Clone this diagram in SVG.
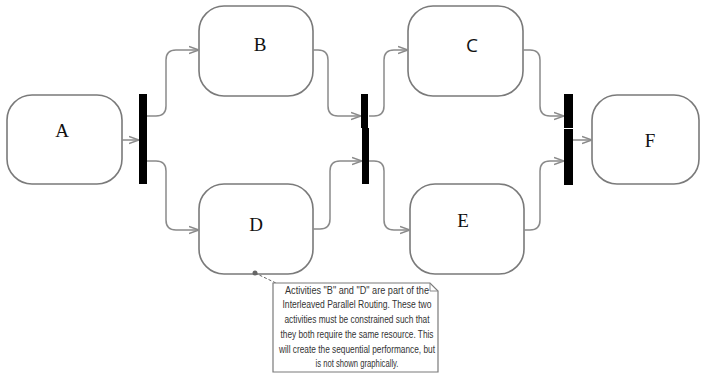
<svg xmlns="http://www.w3.org/2000/svg" width="702" height="374" viewBox="0 0 702 374">
  <defs>
    <marker id="arrow" viewBox="0 0 10 10" refX="10" refY="5" markerWidth="10" markerHeight="10" markerUnits="userSpaceOnUse" orient="auto">
      <path d="M0,1.5 L10,5 L0,8.5" fill="none" stroke="#8a8a8a" stroke-width="1.4"/>
    </marker>
    <style>
      .task { fill: #ffffff; stroke: #7a7a7a; stroke-width: 1.6; }
      .label { font-family: "Liberation Serif", "Times New Roman", serif; font-size: 19px; fill: #111111; text-anchor: middle; }
      .label-sans { font-family: "Open Sans", "Liberation Sans", sans-serif; font-size: 19px; fill: #111111; text-anchor: middle; }
      .bar { fill: #000000; }
      .flow { fill: none; stroke: #8a8a8a; stroke-width: 1.5; marker-end: url(#arrow); }
      .plain { fill: none; stroke: #8a8a8a; stroke-width: 1; }
      .note { fill: #ffffff; stroke: #7a7a7a; stroke-width: 1.2; }
      .note-text { font-family: "Liberation Sans", Arial, sans-serif; font-size: 10px; fill: #333333; text-anchor: middle; }
      .assoc { fill: none; stroke: #666666; stroke-width: 1; stroke-dasharray: 3 2; }
    </style>
  </defs>

  <!-- activities -->
  <g id="A">
    <rect class="task" x="7" y="95" width="115" height="89" rx="25"/>
    <text class="label" x="62" y="137">A</text>
  </g>
  <g id="B">
    <rect class="task" x="199" y="6" width="114" height="90" rx="25"/>
    <text class="label" x="260" y="51">B</text>
  </g>
  <g id="C">
    <rect class="task" x="408" y="6" width="115" height="90" rx="25"/>
    <text class="label-sans" x="472" y="52">C</text>
  </g>
  <g id="D">
    <rect class="task" x="199" y="184" width="114" height="90" rx="25"/>
    <text class="label" x="256" y="231">D</text>
  </g>
  <g id="E">
    <rect class="task" x="410" y="184" width="114" height="90" rx="25"/>
    <text class="label" x="463" y="227">E</text>
  </g>
  <g id="F">
    <rect class="task" x="592" y="95" width="107" height="89" rx="25"/>
    <text class="label" x="650" y="147">F</text>
  </g>

  <!-- AND split / join bars -->
  <g id="split1">
    <rect class="bar" x="139" y="94" width="8" height="90"/>
  </g>
  <g id="join2">
    <rect class="bar" x="361" y="94" width="7" height="34"/>
    <rect class="bar" x="362" y="128" width="7" height="56"/>
  </g>
  <g id="join3">
    <rect class="bar" x="564" y="94" width="9" height="34"/>
    <rect class="bar" x="564" y="129" width="9" height="56"/>
  </g>

  <!-- sequence flows -->
  <g id="connectors">
    <path class="flow" d="M122,140 H139"/>
    <path class="flow" d="M147,116 H156 Q166,116 166,106 V60 Q166,50 176,50 H199"/>
    <path class="flow" d="M147,161 H156 Q166,161 166,171 V220 Q166,230 176,230 H199"/>
    <path class="flow" d="M313,50 H318 Q328,50 328,60 V106 Q328,116 338,116 H361"/>
    <path class="flow" d="M313,229 H320 Q330,229 330,219 V171 Q330,161 340,161 H362"/>
    <path class="flow" d="M369,116 H374 Q384,116 384,106 V60 Q384,50 394,50 H408"/>
    <path class="flow" d="M369,161 H374 Q384,161 384,171 V220 Q384,230 394,230 H410"/>
    <path class="flow" d="M523,50 H530 Q540,50 540,60 V106 Q540,116 550,116 H564"/>
    <path class="flow" d="M524,230 H530 Q540,230 540,220 V171 Q540,161 550,161 H564"/>
    <path class="flow" d="M573,140 H592"/>
    <!-- association from D to the annotation -->
    <path class="assoc" d="M255,273 L278,284"/>
    <circle cx="255" cy="273" r="2.5" fill="#666666"/>
  </g>

  <!-- annotation -->
  <g id="note">
    <path class="note" d="M273,283 H430 L438,291 V372 H273 Z"/>
    <path class="plain" d="M430,283 V291 H438"/>
    <text class="note-text" x="357" y="294" textLength="144" lengthAdjust="spacingAndGlyphs">Activities "B" and "D" are part of the</text>
    <text class="note-text" x="357" y="308" textLength="149" lengthAdjust="spacingAndGlyphs">Interleaved Parallel Routing. These two</text>
    <text class="note-text" x="357" y="323" textLength="145" lengthAdjust="spacingAndGlyphs">activities must be constrained such that</text>
    <text class="note-text" x="357" y="338" textLength="153" lengthAdjust="spacingAndGlyphs">they both require the same resource. This</text>
    <text class="note-text" x="357" y="353" textLength="156" lengthAdjust="spacingAndGlyphs">will create the sequential performance, but</text>
    <text class="note-text" x="357" y="367" textLength="83" lengthAdjust="spacingAndGlyphs">is not shown graphically.</text>
  </g>
</svg>
